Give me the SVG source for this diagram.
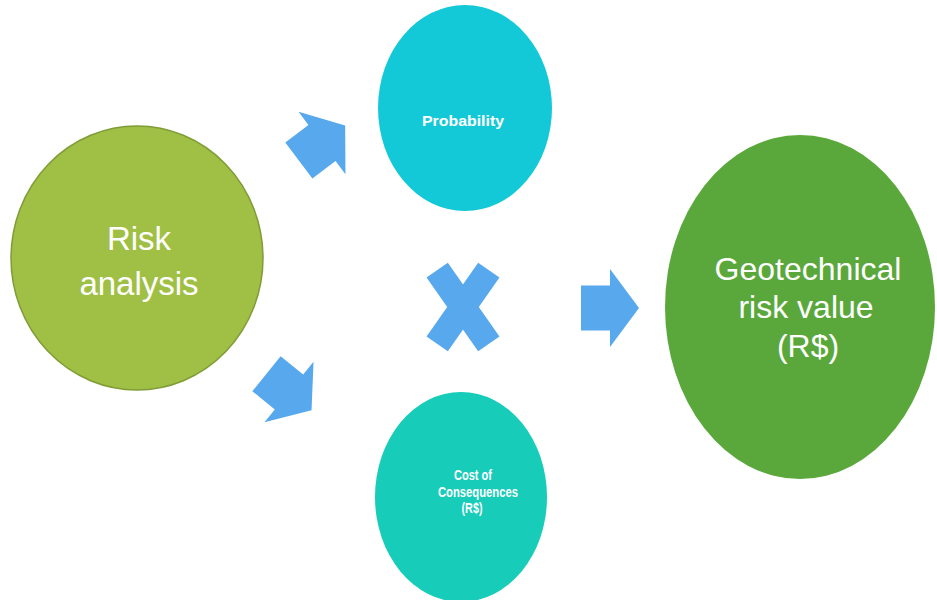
<svg xmlns="http://www.w3.org/2000/svg" width="937" height="600" viewBox="0 0 937 600">
<defs>
<style>
.big{font-family:"Liberation Sans",Arial,sans-serif;fill:#ffffff;text-anchor:middle}
.small{font-family:"Liberation Sans",Arial,sans-serif;font-weight:bold;fill:#ffffff;text-anchor:middle;font-size:15px}
.blue{fill:#58a8ee}
</style>
<path id="arrow" d="M-29,-22.5 L0,-22.5 L0,-39 L29,0 L0,39 L0,22.5 L-29,22.5 Z"/>
</defs>
<rect width="937" height="600" fill="#ffffff"/>
<g id="risk-analysis">
<ellipse cx="137" cy="258" rx="126" ry="132" fill="#9fbf45" stroke="#7f9c36" stroke-width="1.5"/>
<text class="big" x="139" y="250" font-size="33">Risk</text>
<text class="big" x="139" y="295" font-size="33">analysis</text>
</g>
<g id="probability">
<ellipse cx="465" cy="108" rx="87" ry="103" fill="#13c9d7"/>
<text class="small" x="463" y="126" textLength="82" lengthAdjust="spacingAndGlyphs">Probability</text>
</g>
<g id="cost-of-consequences">
<ellipse cx="461" cy="497" rx="86" ry="105" fill="#17ccb9"/>
<text class="small" x="473" y="480" textLength="38" lengthAdjust="spacingAndGlyphs">Cost of</text>
<text class="small" x="478" y="497" textLength="80" lengthAdjust="spacingAndGlyphs">Consequences</text>
<text class="small" x="472" y="513" textLength="21" lengthAdjust="spacingAndGlyphs">(R$)</text>
</g>
<g id="geotechnical-risk-value">
<ellipse cx="800" cy="307" rx="135" ry="172" fill="#5aa83b"/>
<text class="big" x="808" y="280" font-size="32">Geotechnical</text>
<text class="big" x="806" y="318" font-size="32">risk value</text>
<text class="big" x="808" y="357" font-size="32">(R$)</text>
</g>
<g id="connectors">
<use href="#arrow" class="blue" transform="translate(322,143) rotate(-37)"/>
<use href="#arrow" class="blue" transform="translate(289,392) rotate(39)"/>
<use href="#arrow" class="blue" transform="translate(610,308)"/>
</g>
<g id="multiply">
<rect class="blue" x="-45" y="-13" width="90" height="26" transform="translate(463,307) rotate(55)"/>
<rect class="blue" x="-45" y="-13" width="90" height="26" transform="translate(463,307) rotate(-55)"/>
</g>
</svg>
